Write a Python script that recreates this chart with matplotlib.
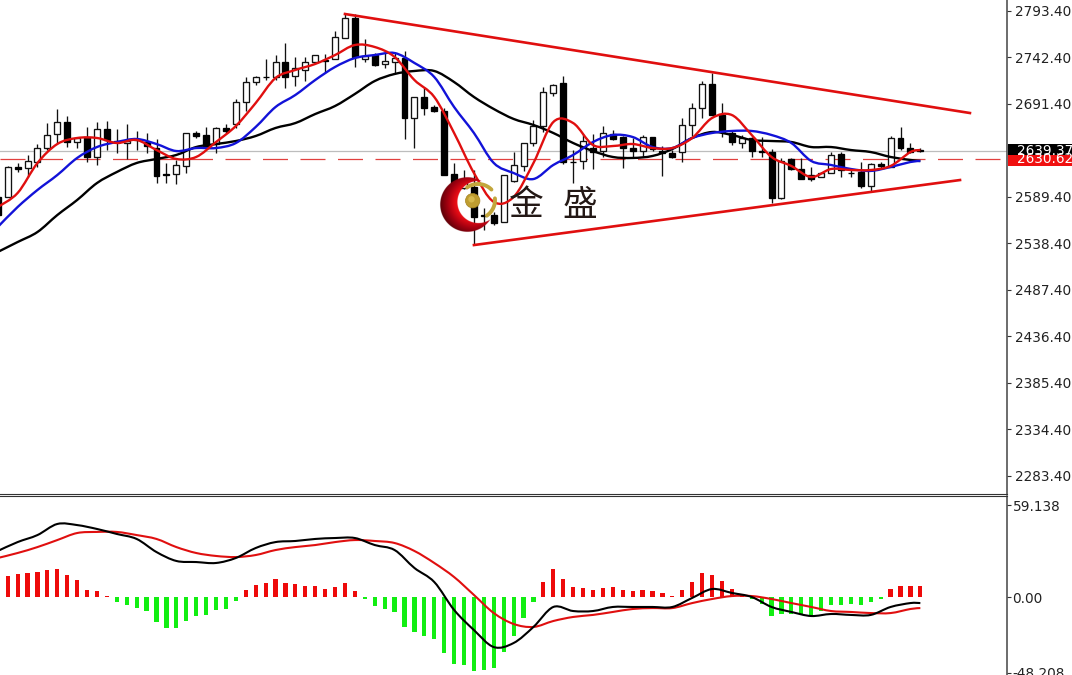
#!/usr/bin/python3
import numpy as np
import matplotlib
matplotlib.use("Agg")
import matplotlib.pyplot as plt
from matplotlib.colors import LinearSegmentedColormap
from matplotlib.patches import Circle, PathPatch, Rectangle
from matplotlib.path import Path
from matplotlib.transforms import blended_transform_factory

plt.rcParams['font.family'] = ['DejaVu Sans']

# candles, first one is cut off by the left edge
first_bar = -1
opens = [2589.4, 2589.4, 2622.3, 2621.2, 2627.8, 2643.1, 2658.5, 2671.6, 2649.7, 2655.2,
         2633.3, 2664.0, 2650.8, 2648.6, 2651.9, 2649.7, 2643.1, 2614.6, 2614.6, 2623.4,
         2659.6, 2657.4, 2647.5, 2665.1, 2669.5, 2693.6, 2715.5, 2721.0, 2721.0, 2737.5,
         2722.1, 2728.7, 2737.5, 2739.6, 2740.7, 2763.8, 2785.7, 2740.7, 2745.1, 2735.3,
         2737.5, 2741.8, 2676.0, 2699.1, 2688.1, 2683.7, 2614.6, 2599.3, 2600.4, 2569.6,
         2569.6, 2562.0, 2607.0, 2623.4, 2648.6, 2667.3, 2703.5, 2714.4, 2627.8, 2628.9,
         2643.1, 2639.8, 2658.5, 2655.2, 2643.1, 2639.8, 2655.2, 2639.8, 2637.6, 2638.7,
         2668.4, 2687.0, 2713.3, 2679.3, 2659.6, 2648.6, 2654.1, 2639.8, 2638.7, 2588.3,
         2631.1, 2620.1, 2613.5, 2611.3, 2615.7, 2636.6, 2615.7, 2616.8, 2601.4, 2625.6,
         2622.3, 2654.1, 2643.1, 2640.9]
closes = [2569.6, 2622.3, 2620.1, 2628.9, 2643.1, 2657.4, 2671.6, 2649.7, 2654.1, 2633.3,
          2664.0, 2651.9, 2649.7, 2650.8, 2651.4, 2645.3, 2612.4, 2613.5, 2624.5, 2659.6,
          2656.3, 2644.2, 2665.1, 2661.8, 2693.6, 2715.5, 2721.0, 2720.5, 2737.5, 2721.0,
          2730.9, 2737.5, 2745.1, 2739.1, 2764.9, 2785.7, 2743.0, 2744.0, 2734.2, 2738.6,
          2741.8, 2676.0, 2699.1, 2687.0, 2683.7, 2613.5, 2604.7, 2605.8, 2567.5, 2568.5,
          2560.9, 2613.5, 2624.5, 2648.6, 2667.3, 2704.6, 2712.2, 2627.8, 2627.3, 2650.8,
          2638.7, 2659.6, 2653.0, 2643.1, 2639.8, 2655.2, 2642.0, 2637.6, 2633.3, 2668.4,
          2687.0, 2713.3, 2679.3, 2660.7, 2649.7, 2654.1, 2639.8, 2638.7, 2588.3, 2628.9,
          2620.1, 2609.1, 2609.1, 2615.7, 2635.5, 2619.0, 2615.2, 2601.4, 2625.6, 2623.4,
          2654.1, 2643.1, 2638.7, 2639.37]
highs = [2597.0, 2623.4, 2626.7, 2635.5, 2647.5, 2670.5, 2685.9, 2678.2, 2655.2, 2666.2,
         2671.6, 2672.7, 2664.0, 2669.5, 2661.8, 2659.6, 2653.0, 2626.7, 2630.0, 2659.6,
         2661.8, 2666.2, 2666.2, 2669.5, 2696.9, 2721.0, 2722.1, 2740.7, 2745.1, 2758.3,
         2743.0, 2743.0, 2745.1, 2746.2, 2771.5, 2791.2, 2790.1, 2762.7, 2747.3, 2747.3,
         2748.4, 2749.5, 2699.1, 2710.0, 2690.3, 2687.0, 2626.7, 2619.0, 2619.0, 2577.3,
         2573.0, 2613.5, 2638.7, 2648.6, 2673.8, 2710.0, 2713.3, 2722.1, 2640.9, 2658.5,
         2658.5, 2667.3, 2662.9, 2656.3, 2654.1, 2657.4, 2655.2, 2645.3, 2640.9, 2676.0,
         2692.5, 2716.6, 2725.4, 2692.5, 2661.8, 2657.4, 2655.2, 2655.2, 2642.0, 2632.2,
         2632.2, 2632.2, 2622.3, 2616.8, 2638.7, 2638.7, 2620.1, 2627.8, 2626.7, 2627.8,
         2656.3, 2666.2, 2648.6, 2643.1]
lows = [2562.0, 2589.4, 2616.8, 2611.3, 2622.3, 2640.9, 2648.6, 2644.2, 2643.1, 2627.8,
        2624.5, 2640.9, 2637.6, 2631.1, 2640.9, 2637.6, 2604.7, 2604.7, 2603.6, 2615.7,
        2654.1, 2643.1, 2637.6, 2659.6, 2665.1, 2683.7, 2712.2, 2717.7, 2717.7, 2709.0,
        2711.1, 2716.6, 2736.4, 2726.5, 2740.7, 2763.8, 2732.0, 2737.5, 2733.1, 2730.9,
        2725.4, 2653.0, 2643.1, 2679.3, 2682.6, 2613.5, 2604.7, 2598.2, 2536.7, 2553.2,
        2558.7, 2562.0, 2605.8, 2617.9, 2645.3, 2660.7, 2700.2, 2625.6, 2604.7, 2620.1,
        2620.1, 2633.3, 2651.9, 2621.2, 2632.2, 2633.3, 2639.8, 2612.4, 2632.2, 2627.8,
        2656.3, 2676.0, 2679.3, 2655.2, 2646.4, 2643.1, 2633.3, 2633.3, 2582.8, 2587.2,
        2619.0, 2609.1, 2607.0, 2611.3, 2615.7, 2611.3, 2611.3, 2599.3, 2594.9, 2621.2,
        2622.3, 2640.9, 2637.6, 2638.7]

line_bars = list(range(-1, 92, 2)) + [92]
ma_red = [2578.4, 2593.8, 2626.7, 2647.5, 2654.1, 2654.1, 2648.6, 2651.9, 2640.9, 2631.1,
          2633.3, 2649.7, 2667.3, 2692.5, 2719.9, 2728.7, 2735.3, 2745.1, 2756.1, 2753.9,
          2743.0, 2717.7, 2699.1, 2659.6, 2615.7, 2584.0, 2589.4, 2626.7, 2671.6, 2670.5,
          2646.4, 2645.3, 2647.5, 2643.1, 2643.1, 2654.1, 2676.0, 2679.3, 2657.4, 2633.3,
          2623.4, 2611.3, 2620.1, 2619.0, 2619.0, 2623.4, 2638.7, 2640.9]
ma_blue = [2556.5, 2578.4, 2597.1, 2613.5, 2632.2, 2644.2, 2649.7, 2653.0, 2647.5, 2639.8,
           2643.1, 2643.1, 2648.6, 2666.2, 2688.1, 2701.3, 2717.7, 2732.0, 2741.8, 2745.1,
           2747.3, 2736.4, 2721.0, 2688.1, 2659.6, 2626.7, 2615.7, 2609.1, 2624.5, 2635.5,
           2649.7, 2657.4, 2655.2, 2644.2, 2643.1, 2654.1, 2659.6, 2661.8, 2661.8, 2657.4,
           2648.6, 2628.9, 2624.5, 2620.1, 2618.0, 2622.3, 2627.8, 2628.9]
ma_black = [2529.1, 2540.0, 2551.0, 2569.6, 2586.1, 2604.7, 2616.8, 2626.7, 2631.1, 2635.5,
            2644.2, 2647.5, 2650.8, 2656.3, 2665.1, 2670.5, 2680.4, 2689.2, 2702.4, 2716.6,
            2724.3, 2727.6, 2727.6, 2715.5, 2699.1, 2685.9, 2675.0, 2668.4, 2659.6, 2648.6,
            2639.8, 2633.3, 2632.2, 2634.4, 2642.0, 2654.1, 2660.7, 2657.4, 2651.9, 2650.8,
            2649.7, 2644.2, 2644.2, 2640.9, 2638.7, 2633.3, 2630.0, 2628.9]

macd_hist = [12.8, 13.5, 14.7, 15.4, 16.0, 17.3, 17.9, 14.1, 10.9, 4.5,
             3.8, 0.6, -3.2, -5.1, -7.1, -9.0, -16.0, -19.9, -19.9, -15.4,
             -12.2, -11.5, -8.3, -7.7, -2.6, 4.5, 7.7, 9.0, 11.5, 9.0,
             8.3, 7.1, 7.1, 5.1, 6.4, 9.0, 3.8, -1.3, -5.8, -7.7,
             -9.6, -19.2, -22.4, -25.0, -26.9, -35.9, -42.9, -43.6, -47.4, -46.8,
             -45.5, -35.3, -25.0, -13.5, -3.2, 9.6, 17.9, 11.5, 6.4, 5.8,
             4.5, 5.8, 6.4, 4.5, 3.8, 4.5, 3.8, 2.6, 0.6, 4.5,
             9.6, 15.4, 14.1, 10.3, 5.1, 1.3, -1.3, -4.5, -12.2, -10.9,
             -10.9, -11.5, -11.5, -9.0, -5.1, -5.1, -4.5, -5.1, -3.2, -1.3,
             5.1, 7.1, 7.1, 7.1]
macd_black = [29.7, 35.4, 39.9, 47.0, 46.3, 43.8, 40.6, 37.4, 29.0, 23.3,
              22.6, 22.0, 25.2, 31.6, 35.4, 36.1, 37.4, 38.0, 38.0, 33.5,
              30.3, 18.8, 9.8, -8.1, -21.0, -31.9, -29.3, -19.0, -6.2, -8.8,
              -8.8, -6.2, -6.2, -6.2, -6.2, -0.4, 5.3, 2.8, 0.2, -6.2,
              -9.4, -12.0, -10.7, -11.3, -11.3, -6.2, -3.7, -3.7]
macd_red = [25.2, 28.4, 32.2, 36.7, 41.2, 41.9, 41.9, 39.9, 37.4, 32.2,
            28.4, 26.5, 25.8, 27.1, 30.3, 32.2, 33.5, 35.4, 36.7, 36.1,
            34.8, 29.7, 22.0, 13.0, 1.5, -10.1, -17.1, -19.0, -15.2, -12.6,
            -11.3, -9.4, -7.5, -6.9, -6.9, -3.7, -1.1, 0.8, 0.8, -1.1,
            -3.7, -6.2, -8.8, -9.4, -10.1, -10.1, -7.5, -6.9]

# trend lines, (bar, price) at each end
top_line_bars = [34, 97]
top_line_prices = [2790.1, 2681.5]
low_line_bars = [47, 96]
low_line_prices = [2536.7, 2608.0]

price_ticks = [2793.40, 2742.40, 2691.40, 2589.40, 2538.40, 2487.40, 2436.40, 2385.40, 2334.40, 2283.40]
macd_ticks = [59.138, 0.00, -48.208]
macd_tick_labels = ["59.138", "0.00", "-48.208"]
bid = 2639.37
ask = 2630.62

W, H = 1072, 675
AXIS_X = 1007
LABEL_COL = "#222222"
RED = "#e00f0f"

def bar_x(px):
    return (px - 7.7) / 9.92

def price_y(py):
    return 2805.46 - 1.0968 * py

def macd_y(py):
    return (597.3 - py) / 1.56

# the platform lines look round, so run a bezier curve through the read values
def curve(a, xs, ys, color, lw, zorder):
    p = np.column_stack([xs, ys])
    verts, codes = [p[0]], [Path.MOVETO]
    for i in range(len(p) - 1):
        before = p[max(i - 1, 0)]
        after = p[min(i + 2, len(p) - 1)]
        verts += [p[i] + (p[i + 1] - before) / 6, p[i + 1] - (after - p[i]) / 6, p[i + 1]]
        codes += [Path.CURVE4] * 3
    a.add_patch(PathPatch(Path(verts, codes), fill=False, edgecolor=color, lw=lw, zorder=zorder))

fig = plt.figure(figsize=(W / 100, H / 100), dpi=100)
ax = fig.add_axes([0, 1 - 494 / H, AXIS_X / W, 494 / H])
ax2 = fig.add_axes([0, 0, AXIS_X / W, 1 - 496 / H])

bars = np.arange(first_bar, first_bar + len(opens))
o, c = np.array(opens), np.array(closes)

# candles
ax.vlines(bars, lows, highs, color="#111111", lw=0.95, zorder=2)
up = c >= o
ax.bar(bars[up], (c - o)[up], bottom=o[up], width=0.6, facecolor="white",
       edgecolor="#111111", lw=0.95, zorder=3)
ax.bar(bars[~up], (o - c)[~up], bottom=c[~up], width=0.6, facecolor="black",
       edgecolor="black", lw=0.95, zorder=3)

# bid / ask lines
ax.axhline(bid, color="#bdbdbd", lw=0.9, zorder=1)
ax.axhline(ask, color="#e2403f", lw=0.9, ls=(0, (20, 10)), zorder=1)

curve(ax, line_bars, ma_black, "black", 1.7, 4)
curve(ax, line_bars, ma_blue, "#1212d8", 1.7, 5)
curve(ax, line_bars, ma_red, RED, 1.7, 6)

ax.plot(top_line_bars, top_line_prices, color=RED, lw=1.9, zorder=6)
ax.plot(low_line_bars, low_line_prices, color=RED, lw=1.9, zorder=6)

ax.set_xlim(bar_x(0), bar_x(AXIS_X))
ax.set_ylim(price_y(494), price_y(0))

# macd panel
hist = np.array(macd_hist)
ax2.bar(bars, hist, width=0.42, color=np.where(hist >= 0, "#ee0a0a", "#12ee12"), zorder=2)
curve(ax2, line_bars, macd_red, RED, 1.5, 3)
curve(ax2, line_bars, macd_black, "black", 1.5, 4)
ax2.set_xlim(bar_x(0), bar_x(AXIS_X))
ax2.set_ylim(macd_y(675), macd_y(496))

ax.set_yticks(price_ticks)
ax.set_yticklabels(["%.2f" % t for t in price_ticks])
ax2.set_yticks(macd_ticks)
ax2.set_yticklabels(macd_tick_labels)
for a, pad in ((ax, 2.5), (ax2, 1)):
    a.set_xticks([])
    a.yaxis.tick_right()
    a.tick_params(axis="y", length=3, width=0.8, color="#333333", labelcolor=LABEL_COL,
                  labelsize=9.8, pad=pad)
    a.spines["left"].set_visible(False)
    a.spines["right"].set_color("#444444")
    a.spines["right"].set_linewidth(1.1)
ax.spines["top"].set_visible(False)
ax.spines["bottom"].set_color("#333333")
ax2.spines["bottom"].set_visible(False)
ax2.spines["top"].set_color("#333333")

# price boxes on the axis, ask sits on top of bid
trans = blended_transform_factory(ax.transAxes, ax.transData)
box_w = (W - AXIS_X) / AXIS_X
ax.add_patch(Rectangle((1.001, price_y(155.5)), box_w, price_y(144.5) - price_y(155.5), transform=trans,
                       facecolor="black", edgecolor="none", clip_on=False, zorder=7))
ax.text(1.0095, bid, "%.2f" % bid, transform=trans, color="white", fontsize=9.8, va="center", clip_on=False, zorder=8)
ax.add_patch(Rectangle((1.001, price_y(166)), box_w, price_y(154.5) - price_y(166), transform=trans,
                       facecolor="#f01010", edgecolor="none", clip_on=False, zorder=9))
ax.text(1.0095, ask, "%.2f" % ask, transform=trans, color="white", fontsize=9.8, va="center", clip_on=False, zorder=10)

# logo and watermark, drawn in picture pixels on a bare overlay
logo = fig.add_axes([0, 0, 1, 1], facecolor="none")

cx, cy, R = 467.5, 205.0, 27.5
ix, iy, r = 478.5, 202.5, 21.0
gy, gx = np.mgrid[cy - R - 1:cy + R + 1:240j, cx - R - 1:cx + R + 1:240j]
moon = LinearSegmentedColormap.from_list("moon", ["#ff1a1a", "#e00a14", "#a00010", "#5e0008"])
rgba = moon(np.clip((np.hypot(gx - (cx + 6), gy - (cy - 2)) / (R + 6) - 0.35) / 0.65, 0, 1))
rgba[..., 3] = np.clip((R - np.hypot(gx - cx, gy - cy)) * 4, 0, 1) * np.clip((np.hypot(gx - ix, gy - iy) - r) * 4, 0, 1)
logo.imshow(rgba, extent=(cx - R - 1, cx + R + 1, cy + R + 1, cy - R - 1), aspect="auto", zorder=5)
logo.set_xlim(0, W)
logo.set_ylim(H, 0)
logo.axis("off")

logo.add_patch(Circle((472.7, 200.7), 7.2, facecolor="#bf9d30", edgecolor="#a58420", lw=0.5, zorder=6))
logo.add_patch(Circle((471.5, 199.3), 3.2, facecolor="#e0c55a", edgecolor="none", alpha=0.7, zorder=7))
t = np.linspace(np.radians(-125), np.radians(-45), 30)
logo.plot(478 + 19 * np.cos(t), 203 + 19 * np.sin(t), color="#c2a63c", lw=2.8, zorder=6, solid_capstyle="round")
t = np.linspace(np.radians(-5), np.radians(55), 30)
logo.plot(476 + 19 * np.cos(t), 200 + 19 * np.sin(t), color="#c2a63c", lw=2.8, zorder=6, solid_capstyle="round")

cjk = ['Noto Sans CJK SC', 'DejaVu Sans']
logo.text(526.5, 205.5, "金", family=cjk, fontsize=25, color="#231815", ha="center", va="center", zorder=6)
logo.text(580, 205.5, "盛", family=cjk, fontsize=25, color="#231815", ha="center", va="center", zorder=6)

fig.savefig("out.png", dpi=100, facecolor="white")
